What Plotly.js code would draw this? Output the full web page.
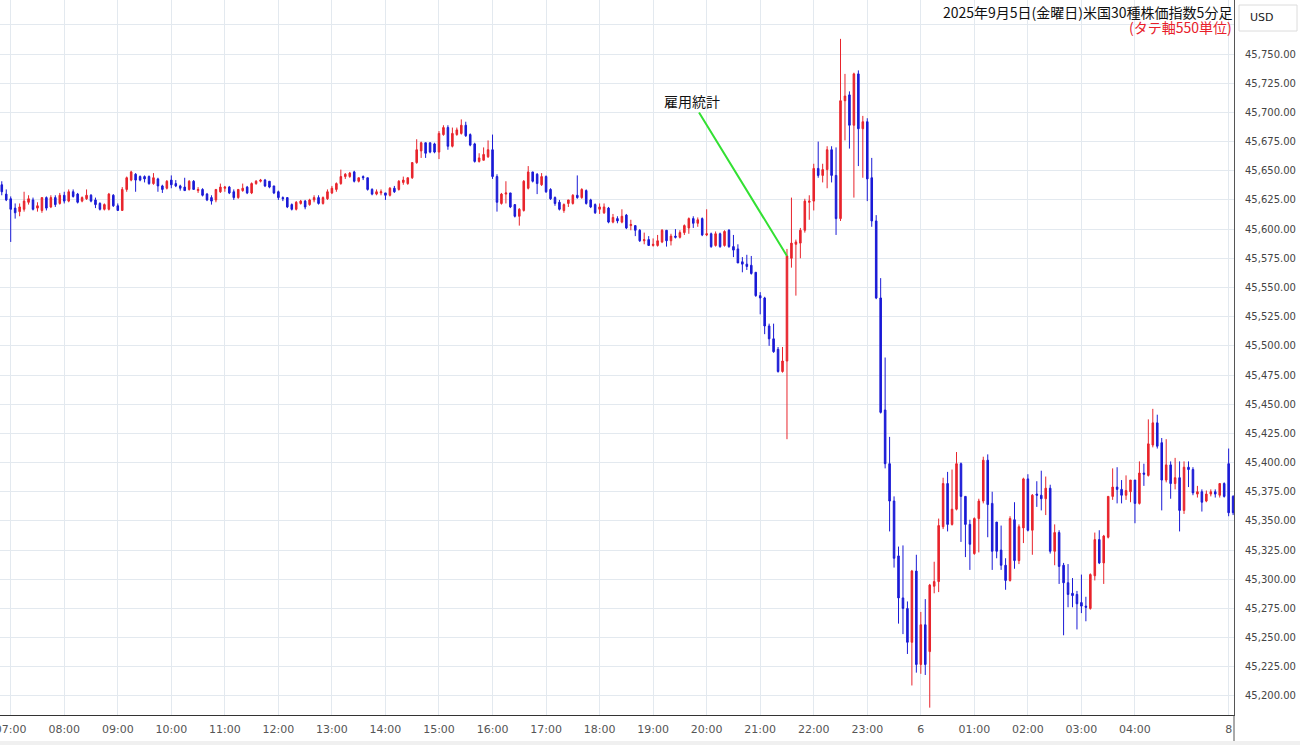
<!DOCTYPE html>
<html><head><meta charset="utf-8">
<script src="https://cdn.plot.ly/plotly-3.0.1.min.js"></script>
<style>html,body{margin:0;padding:0;background:#fff}#chart{width:1300px;height:745px}</style>
</head><body><div id="chart"></div>
<script>
// 5-minute bars starting 06:50
const startTime = '06:50';
const barMinutes = 5;

const openP = [
45638,45630,45626,45618,45615,45617,45623,45625,45618,45616,45627,45619,45627,45622,45629,45624,45632,45630,45624,45626,
45629,45625,45622,45617,45617,45629,45620,45616,45634,45642,45647,45645,45645,45645,45639,45643,45637,45635,45642,45639,
45637,45636,45634,45641,45633,45634,45630,45627,45625,45632,45635,45636,45632,45627,45633,45636,45631,45639,45641,45642,
45641,45637,45632,45627,45627,45621,45617,45622,45624,45621,45625,45627,45622,45626,45631,45634,45639,45645,45645,45649,
45641,45645,45644,45634,45630,45631,45631,45629,45635,45634,45640,45639,45644,45657,45667,45674,45674,45673,45666,45681,
45687,45671,45681,45682,45689,45681,45673,45658,45659,45662,45668,45645,45622,45630,45631,45621,45611,45616,45635,45649,
45647,45638,45645,45634,45627,45623,45616,45622,45622,45629,45627,45633,45625,45621,45617,45614,45618,45606,45609,45606,
45612,45603,45603,45599,45590,45591,45586,45586,45589,45599,45590,45594,45593,45597,45601,45609,45605,45609,45595,45596,
45586,45596,45586,45599,45585,45583,45572,45570,45569,45563,45543,45541,45517,45506,45497,45478,45487,45575,45587,45588,
45599,45623,45624,45652,45646,45651,45668,45646,45609,45710,45715,45689,45733,45686,45692,45644,45607,45541,45445,45399,
45367,45320,45284,45275,45246,45307,45227,45261,45238,45294,45298,45345,45382,45347,45360,45399,45371,45347,45322,45352,
45367,45402,45365,45349,45325,45312,45299,45351,45316,45344,45386,45342,45373,45372,45369,45378,45324,45340,45312,45297,
45288,45287,45280,45277,45275,45303,45334,45314,45336,45371,45379,45377,45372,45375,45385,45365,45391,45389,45415,45434,
45417,45385,45398,45382,45387,45359,45396,45394,45373,45375,45367,45373,45375,45372,45382,45399,45371];

const highP = [
45641,45634,45628,45622,45622,45632,45629,45627,45623,45627,45628,45629,45629,45631,45632,45634,45634,45631,45628,45634,
45630,45627,45623,45622,45631,45630,45622,45636,45645,45650,45648,45646,45646,45646,45648,45644,45638,45642,45646,45642,
45638,45644,45642,45642,45636,45635,45631,45629,45634,45639,45637,45637,45634,45634,45639,45637,45640,45642,45643,45643,
45641,45637,45633,45628,45627,45622,45624,45625,45625,45626,45629,45629,45628,45634,45637,45640,45651,45648,45649,45650,
45644,45646,45644,45635,45634,45634,45631,45636,45637,45642,45645,45644,45657,45677,45675,45674,45674,45674,45684,45689,
45689,45687,45687,45694,45692,45682,45674,45665,45670,45676,45681,45647,45631,45641,45631,45621,45618,45642,45654,45649,
45648,45648,45646,45635,45628,45625,45622,45625,45630,45646,45635,45634,45626,45622,45622,45622,45619,45613,45611,45617,
45613,45608,45603,45600,45597,45594,45592,45595,45600,45599,45596,45600,45599,45604,45610,45611,45610,45610,45617,45597,
45598,45597,45599,45600,45595,45587,45576,45578,45577,45563,45546,45542,45519,45519,45499,45499,45583,45627,45591,45601,
45626,45629,45656,45675,45656,45671,45671,45670,45763,45733,45718,45734,45736,45697,45695,45661,45612,45558,45490,45422,
45371,45328,45329,45281,45308,45321,45272,45283,45296,45315,45352,45387,45392,45394,45409,45400,45371,45351,45353,45369,
45405,45407,45375,45349,45346,45318,45354,45366,45347,45387,45390,45373,45384,45393,45388,45381,45347,45342,45314,45313,
45301,45290,45304,45285,45305,45340,45342,45338,45371,45395,45396,45385,45389,45385,45385,45401,45399,45437,45446,45441,
45421,45420,45401,45404,45401,45401,45401,45396,45380,45377,45376,45377,45377,45382,45383,45412,45372];

const lowP = [
45629,45624,45589,45609,45611,45615,45621,45616,45615,45614,45616,45618,45619,45621,45622,45623,45627,45622,45623,45625,
45623,45618,45616,45616,45616,45619,45616,45616,45632,45641,45632,45641,45640,45638,45638,45632,45631,45634,45635,45636,
45633,45633,45633,45634,45631,45628,45624,45621,45623,45631,45632,45630,45625,45626,45632,45630,45630,45638,45640,45636,
45635,45630,45625,45624,45618,45616,45616,45621,45617,45620,45623,45621,45621,45625,45630,45632,45638,45643,45644,45640,
45640,45642,45633,45629,45629,45629,45625,45628,45631,45633,45638,45638,45643,45656,45661,45661,45665,45665,45660,45680,
45668,45670,45680,45681,45679,45671,45657,45657,45659,45661,45643,45615,45621,45622,45618,45610,45603,45615,45634,45640,
45630,45637,45631,45625,45620,45616,45614,45619,45621,45626,45626,45621,45618,45613,45613,45613,45605,45605,45605,45605,
45600,45599,45594,45589,45587,45586,45585,45585,45588,45585,45586,45592,45592,45595,45596,45601,45602,45594,45594,45584,
45585,45584,45585,45584,45576,45571,45563,45565,45561,45542,45527,45510,45500,45494,45477,45477,45420,45567,45543,45575,
45597,45608,45616,45644,45640,45635,45640,45595,45607,45676,45669,45627,45654,45644,45624,45602,45540,45442,45395,45341,
45310,45262,45253,45236,45209,45220,45219,45218,45190,45288,45289,45343,45341,45346,45359,45332,45319,45308,45321,45323,
45365,45336,45308,45318,45308,45291,45298,45309,45313,45331,45341,45321,45362,45359,45355,45322,45312,45296,45252,45276,
45276,45257,45271,45264,45274,45299,45313,45296,45335,45368,45365,45365,45368,45366,45348,45364,45380,45388,45413,45412,
45359,45383,45369,45377,45341,45356,45379,45372,45370,45358,45366,45371,45370,45370,45370,45354,45355];

const closeP = [
45632,45625,45617,45614,45619,45624,45626,45617,45620,45627,45618,45627,45621,45629,45624,45632,45628,45623,45627,45629,
45624,45621,45617,45621,45630,45620,45616,45634,45644,45649,45642,45642,45643,45639,45644,45637,45634,45641,45638,45637,
45635,45633,45641,45634,45634,45629,45625,45624,45634,45636,45636,45631,45627,45634,45635,45631,45639,45641,45642,45637,
45636,45631,45627,45626,45619,45617,45623,45624,45619,45625,45627,45622,45627,45632,45635,45639,45645,45647,45648,45641,
45644,45644,45634,45630,45632,45632,45629,45635,45632,45641,45642,45644,45657,45668,45674,45665,45666,45666,45682,45687,
45671,45682,45685,45689,45680,45672,45658,45661,45664,45668,45645,45623,45630,45631,45619,45611,45617,45641,45649,45641,
45639,45645,45632,45626,45622,45617,45621,45625,45629,45627,45634,45622,45619,45614,45619,45619,45606,45610,45607,45611,
45601,45604,45599,45590,45591,45586,45587,45590,45599,45590,45594,45593,45597,45603,45609,45605,45608,45595,45596,45585,
45596,45585,45598,45585,45582,45571,45570,45568,45562,45543,45541,45517,45506,45495,45478,45487,45577,45588,45589,45599,
45624,45624,45652,45646,45651,45668,45646,45609,45710,45714,45689,45733,45686,45692,45643,45607,45541,45443,45399,45367,
45318,45284,45275,45246,45307,45227,45261,45227,45295,45298,45346,45382,45347,45360,45399,45371,45347,45330,45352,45367,
45402,45364,45324,45324,45312,45299,45352,45316,45345,45386,45342,45372,45372,45369,45378,45324,45340,45311,45297,45287,
45286,45279,45277,45276,45304,45334,45314,45337,45371,45379,45377,45372,45376,45385,45365,45391,45390,45416,45434,45414,
45385,45398,45382,45387,45359,45396,45394,45374,45375,45366,45373,45375,45373,45382,45371,45357,45357];

const tickTimes = ['07:00','08:00','09:00','10:00','11:00','12:00','13:00','14:00','15:00','16:00','17:00','18:00','19:00','20:00','21:00','22:00','23:00','00:00','01:00','02:00','03:00','04:00','05:45'];
const tickLabels = ['07:00','08:00','09:00','10:00','11:00','12:00','13:00','14:00','15:00','16:00','17:00','18:00','19:00','20:00','21:00','22:00','23:00','6','01:00','02:00','03:00','04:00','8'];
const yTicks = [45200,45225,45250,45275,45300,45325,45350,45375,45400,45425,45450,45475,45500,45525,45550,45575,45600,45625,45650,45675,45700,45725,45750,45775];
const yTickLabels = ['45,200.00','45,225.00','45,250.00','45,275.00','45,300.00','45,325.00','45,350.00','45,375.00','45,400.00','45,425.00','45,450.00','45,475.00','45,500.00','45,525.00','45,550.00','45,575.00','45,600.00','45,625.00','45,650.00','45,675.00','45,700.00','45,725.00','45,750.00',''];
const eventTime = '21:30';
const eventLabel = '雇用統計';
const titleText = '2025年9月5日(金曜日)米国30種株価指数5分足';
const subTitleText = '(タテ軸550単位)';

// category labels for each bar
const times = [];
{
  const [h0, m0] = startTime.split(':').map(Number);
  for (let k = 0; k < openP.length; k++) {
    const t = (h0 * 60 + m0 + k * barMinutes) % 1440;
    times.push(String(Math.floor(t / 60)).padStart(2, '0') + ':' + String(t % 60).padStart(2, '0'));
  }
}
const evIdx = times.indexOf(eventTime);

const trace = {
  type: 'candlestick',
  x: times, open: openP, high: highP, low: lowP, close: closeP,
  increasing: {line: {color: '#e8242c', width: 1}, fillcolor: '#e8242c'},
  decreasing: {line: {color: '#1a1ad6', width: 1}, fillcolor: '#1a1ad6'},
  whiskerwidth: 0,
  hoverinfo: 'none'
};

const gridC = '#e3e9ef';
const layout = {
  width: 1300, height: 745,
  margin: {l: 0, r: 66, t: 0, b: 30},
  paper_bgcolor: '#ffffff', plot_bgcolor: '#ffffff',
  showlegend: false,
  boxgap: 0.5,
  xaxis: {
    type: 'category',
    range: [-0.4, times.length - 0.8],
    tickvals: tickTimes, ticktext: tickLabels,
    showgrid: true, gridcolor: gridC, gridwidth: 1,
    showline: true, linecolor: '#333333', linewidth: 1,
    ticks: '', zeroline: false,
    tickfont: {family: 'DejaVu Sans', size: 11, color: '#555555'},
    ticklabelstandoff: 4,
    rangeslider: {visible: false},
    fixedrange: true
  },
  yaxis: {
    side: 'right',
    range: [45183.7, 45796.3],
    tickvals: yTicks, ticktext: yTickLabels,
    showgrid: true, gridcolor: gridC, gridwidth: 1,
    showline: true, linecolor: '#555555', linewidth: 1,
    ticks: '', zeroline: false,
    tickfont: {family: 'DejaVu Sans', size: 10, color: '#444444'},
    ticklabelstandoff: 8,
    fixedrange: true
  },
  shapes: [
    {type: 'rect', xref: 'paper', yref: 'paper', x0: 1239/1234, x1: 1297/1234, y0: 1 - 31/715, y1: 1 - 5/715,
     line: {color: '#dcdcdc', width: 1}, fillcolor: '#ffffff', layer: 'above'},
    {type: 'line', xref: 'paper', yref: 'paper', x0: 1, x1: 1, y0: 0, y1: -30/715,
     line: {color: '#555555', width: 1}},
    {type: 'rect', xref: 'paper', yref: 'paper', x0: -0.01, x1: 1300/1234, y0: -30/715, y1: -26/715,
     line: {width: 0}, fillcolor: '#f0f0f0'}
  ],
  annotations: [
    {xref: 'paper', yref: 'paper', x: 1, y: 1 - 12/715, xanchor: 'right', yanchor: 'middle',
     text: titleText, showarrow: false,
     font: {family: 'Noto Sans CJK JP', size: 14, color: '#111111'}},
    {xref: 'paper', yref: 'paper', x: 1, y: 1 - 27/715, xanchor: 'right', yanchor: 'middle',
     text: subTitleText, showarrow: false,
     font: {family: 'Noto Sans CJK JP', size: 14, color: '#e8202a'}},
    {xref: 'paper', yref: 'paper', x: 1248/1234, y: 1 - 17/715, xanchor: 'left', yanchor: 'middle',
     text: 'USD', showarrow: false,
     font: {family: 'DejaVu Sans', size: 11, color: '#222222'}},
    {xref: 'x', yref: 'y', x: times[evIdx], y: closeP[evIdx],
     text: eventLabel, showarrow: true, arrowhead: 0, arrowwidth: 2, arrowcolor: '#33e033',
     ax: -95, ay: -155, standoff: 0,
     font: {family: 'Noto Sans CJK JP', size: 14, color: '#111111'}}
  ]
};

Plotly.newPlot('chart', [trace], layout, {displayModeBar: false, staticPlot: true});
</script>
</body></html>
